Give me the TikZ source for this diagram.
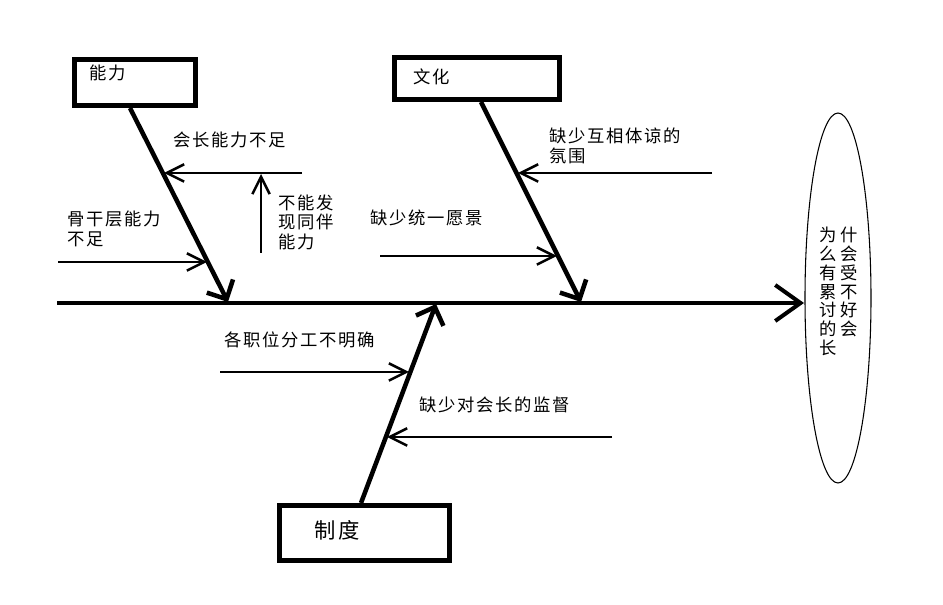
\documentclass[tikz,border=0pt]{standalone}
\usepackage{fontspec}
\newfontfamily\cjk[LetterSpace=10]{Noto Sans CJK SC}
\usetikzlibrary{arrows.meta,shapes.geometric}
\begin{document}
\begin{tikzpicture}[x=0.75pt,y=-0.75pt,
  lbl/.style={font=\cjk\fontsize{13}{14.6}\selectfont, inner sep=0pt, anchor=west, align=left},
  boxtxt/.style={font=\cjk\fontsize{13}{15}\selectfont, inner sep=0pt},
  catbox/.style={draw, line width=3.75pt, inner sep=0pt},
  bone/.style={line width=3.4pt, -{Straight Barb[length=11pt,width=22pt]}},
  spine/.style={line width=3pt, -{Straight Barb[length=19pt,width=27pt]}},
  sub/.style={line width=1.9pt, -{Straight Barb[length=13pt,width=13pt]}},
]
\useasboundingbox (0,0) rectangle (943,605);

% category boxes
\node[catbox, minimum width=90.75pt, minimum height=34.5pt] (bAbility) at (135,82.5) {};
\node[catbox, minimum width=123.75pt, minimum height=31.5pt] (bCulture) at (477,78.5) {};
\node[catbox, minimum width=127.5pt, minimum height=41.25pt] (bSystem) at (364.5,533) {};
\node[boxtxt] (tAbility) at (108,73) {能力};
\node[boxtxt] (tCulture) at (432,77) {文化};
\node[boxtxt, font=\cjk\fontsize{16}{18}\selectfont] (tSystem) at (337,530) {制度};

% effect ellipse
\node[draw, ellipse, line width=0.8pt, minimum width=49.5pt, minimum height=277.5pt, inner sep=0pt] (effect) at (838,298) {};
\node[font=\cjk\fontsize{13}{14.1}\selectfont, inner sep=0pt, align=left] (effectText) at (838.5,291.5)
  {为\kern2.5pt 什\\么\kern2.5pt 会\\有\kern2.5pt 受\\累\kern2.5pt 不\\讨\kern2.5pt 好\\的\kern2.5pt 会\\长};

% spine
\coordinate (spineStart) at (57,303);
\coordinate (spineEnd) at (804,303);
\draw[spine] (spineStart) -- (spineEnd);

% bones
\coordinate (abTop) at (130,108);
\coordinate (abEnd) at (228,302);
\coordinate (cuTop) at (481,102);
\coordinate (cuEnd) at (581,302);
\coordinate (syBot) at (361,503);
\coordinate (syEnd) at (436,304);
\draw[bone] (abTop) -- (abEnd);
\draw[bone] (cuTop) -- (cuEnd);
\draw[bone] (syBot) -- (syEnd);

% sub causes
\coordinate (a1s) at (302,173); \coordinate (a1e) at (164,173);
\coordinate (a2s) at (58,262);  \coordinate (a2e) at (207,262);
\coordinate (a3s) at (712,173); \coordinate (a3e) at (518,173);
\coordinate (a4s) at (380,256); \coordinate (a4e) at (557,256);
\coordinate (a5s) at (220,372); \coordinate (a5e) at (409,372);
\coordinate (a6s) at (612,437); \coordinate (a6e) at (387,437);
\coordinate (a7s) at (261,253); \coordinate (a7e) at (261,174);
\draw[sub] (a1s) -- (a1e);
\draw[sub] (a2s) -- (a2e);
\draw[sub] (a3s) -- (a3e);
\draw[sub] (a4s) -- (a4e);
\draw[sub] (a5s) -- (a5e);
\draw[sub] (a6s) -- (a6e);
\draw[sub] (a7s) -- (a7e);

% labels
\node[lbl] (l1) at (173,140) {会长能力不足};
\node[lbl] (l7) at (278,222) {不能发\\现同伴\\能力};
\node[lbl] (l2) at (67,229) {骨干层能力\\不足};
\node[lbl] (l3) at (549,146) {缺少互相体谅的\\氛围};
\node[lbl] (l4) at (370,218) {缺少统一愿景};
\node[lbl] (l5) at (224,340) {各职位分工不明确};
\node[lbl] (l6) at (419,405) {缺少对会长的监督};
\end{tikzpicture}
\end{document}
